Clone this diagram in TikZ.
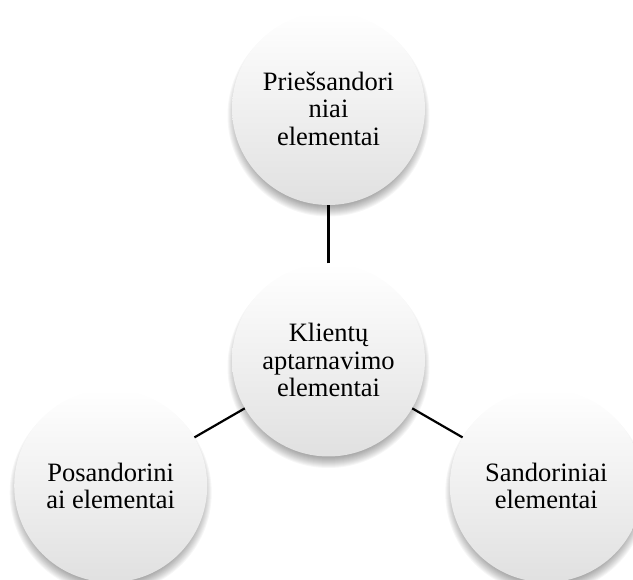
\documentclass[tikz,border=0pt]{standalone}
\usepackage{fontspec}
\setmainfont{Liberation Serif}
\usetikzlibrary{calc}
\tikzset{
  bubble/.style={circle, minimum size=193pt, inner sep=0pt, align=center,
    shading=axis, top color=white, middle color=white!97!black, bottom color=black!12,
    font=\fontsize{26.5}{27.5}\selectfont},
  link/.style={line width=2.2pt, black},
  halo/.style={fill=black, opacity=0.035},
}
\begin{document}
\begin{tikzpicture}[x=1pt,y=-1pt]
\useasboundingbox (0,0) rectangle (633,580);
\clip (0,0) rectangle (633,580);
% centres of the four circles
\coordinate (pc) at (328.5,360);
\coordinate (pt) at (328.5,108.5);
\coordinate (pl) at (110.7,485.75);
\coordinate (pr) at (546.3,485.75);
% soft drop shadows, falling mostly below each circle
\foreach \p in {pc,pt,pl,pr}{
  \foreach \k in {0,...,11}{
    \fill[halo] ($(\p)+(0,7)$) circle[radius={90+\k}];
  }
}
% circles
\node[bubble] (c) at (pc) {Klientų\\aptarnavimo\\elementai};
\node[bubble] (t) at (pt) {Priešsandori\\niai\\elementai};
\node[bubble] (l) at (pl) {Posandorini\\ai elementai};
\node[bubble] (r) at (pr) {Sandoriniai\\elementai};
% connectors
\draw[link] (c) -- (t);
\draw[link] (c) -- (l);
\draw[link] (c) -- (r);
\end{tikzpicture}
\end{document}
